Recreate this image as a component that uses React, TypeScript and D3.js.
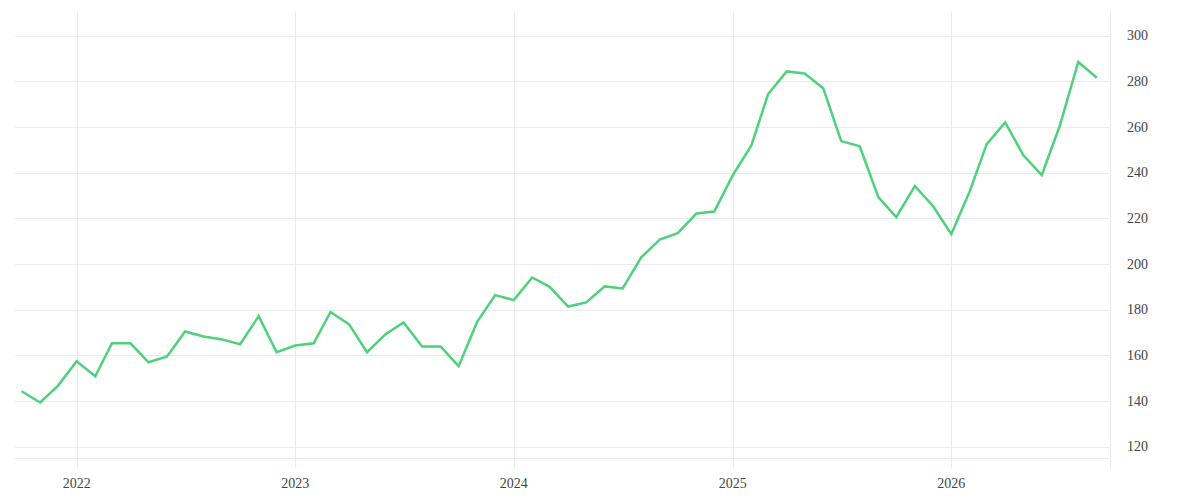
import React, { useEffect, useRef } from 'react';
import * as d3 from 'd3';

// monthly values, Oct 2021 .. Sep 2026
const startMonth = '2021-10'
const values = [
  144.3, 139.4, 146.8,
  157.4, 150.9, 165.3, 165.3, 157.0, 159.5, 170.5, 168.3, 167.0, 164.9, 177.2, 161.4,
  164.3, 165.3, 179.0, 173.6, 161.4, 169.3, 174.4, 163.9, 163.9, 155.3, 174.7, 186.4,
  184.2, 194.1, 190.0, 181.4, 183.2, 190.2, 189.3, 202.9, 210.7, 213.5, 222.1, 223.0,
  238.9, 251.9, 274.4, 284.3, 283.4, 276.9, 253.8, 251.5, 229.3, 220.5, 234.1, 225.5,
  213.1, 232.0, 252.5, 262.0, 247.7, 238.9, 260.4, 288.4, 281.5,
]
const yTicks = [120, 140, 160, 180, 200, 220, 240, 260, 280, 300]
const xTickYears = [2022, 2023, 2024, 2025, 2026]

const App = () => {
  const svg = useRef(null);
  const width = 1200
  const height = 500
  const plot = { left: 15, right: 1110, top: 12, bottom: 468 }

  const renderChart = (root: any) => {
    const parse = d3.timeParse('%Y-%m')
    const first = parse(startMonth) as Date
    const data = values.map((v, i) => ({ date: d3.timeMonth.offset(first, i), value: v }))

    const x = d3
      .scaleTime()
      .domain([new Date(2021, 8, 20), new Date(2026, 8, 23)])
      .range([plot.left, plot.right])

    const y = d3
      .scaleLinear()
      .domain([115.1, 310.3])
      .range([458, plot.top])

    const grid = root.select('.grid')
    grid.selectAll('*').remove()

    grid
      .selectAll('.hgrid')
      .data(yTicks)
      .enter()
      .append('line')
      .attr('x1', plot.left)
      .attr('x2', plot.right)
      .attr('y1', (d: number) => Math.round(y(d)) + 0.5)
      .attr('y2', (d: number) => Math.round(y(d)) + 0.5)
      .attr('stroke', '#ebebeb')

    // bottom baseline
    grid
      .append('line')
      .attr('x1', plot.left)
      .attr('x2', plot.right)
      .attr('y1', 458.5)
      .attr('y2', 458.5)
      .attr('stroke', '#ebebeb')

    const years = xTickYears.map(yr => new Date(yr, 0, 1))
    grid
      .selectAll('.vgrid')
      .data(years)
      .enter()
      .append('line')
      .attr('x1', (d: Date) => Math.round(x(d)) + 0.5)
      .attr('x2', (d: Date) => Math.round(x(d)) + 0.5)
      .attr('y1', plot.top)
      .attr('y2', plot.bottom)
      .attr('stroke', '#ebebeb')

    grid
      .append('line')
      .attr('x1', plot.right + 0.5)
      .attr('x2', plot.right + 0.5)
      .attr('y1', plot.top)
      .attr('y2', plot.bottom)
      .attr('stroke', '#ebebeb')

    const labels = root.select('.labels')
    labels.selectAll('*').remove()

    labels
      .selectAll('.xl')
      .data(years)
      .enter()
      .append('text')
      .attr('x', (d: Date) => x(d))
      .attr('y', 488)
      .attr('text-anchor', 'middle')
      .attr('font-size', 14)
      .attr('fill', '#444')
      .text((d: Date) => d3.timeFormat('%Y')(d))

    labels
      .selectAll('.yl')
      .data(yTicks)
      .enter()
      .append('text')
      .attr('x', 1127)
      .attr('y', (d: number) => y(d))
      .attr('dy', '0.33em')
      .attr('font-size', 14)
      .attr('fill', '#444')
      .text((d: number) => d)

    const line = d3
      .line<any>()
      .x(d => x(d.date))
      .y(d => y(d.value))

    root
      .select('.plot-area')
      .selectAll('path')
      .data([data])
      .join('path')
      .attr('d', line)
      .attr('fill', 'none')
      .attr('stroke', '#4fd17b')
      .attr('stroke-width', 2.5)
  }

  useEffect(() => {
    document.body.style.margin = '0'
    renderChart(d3.select(svg.current));
  }, [])

  return (
    <svg
      ref={svg}
      width={width}
      height={height}
      style={{ display: 'block', background: '#fff', fontFamily: '"Liberation Serif", serif' }}
    >
      <g className="grid" />
      <g className="labels" />
      <g className="plot-area" />
    </svg>
  );
}

export default App;
